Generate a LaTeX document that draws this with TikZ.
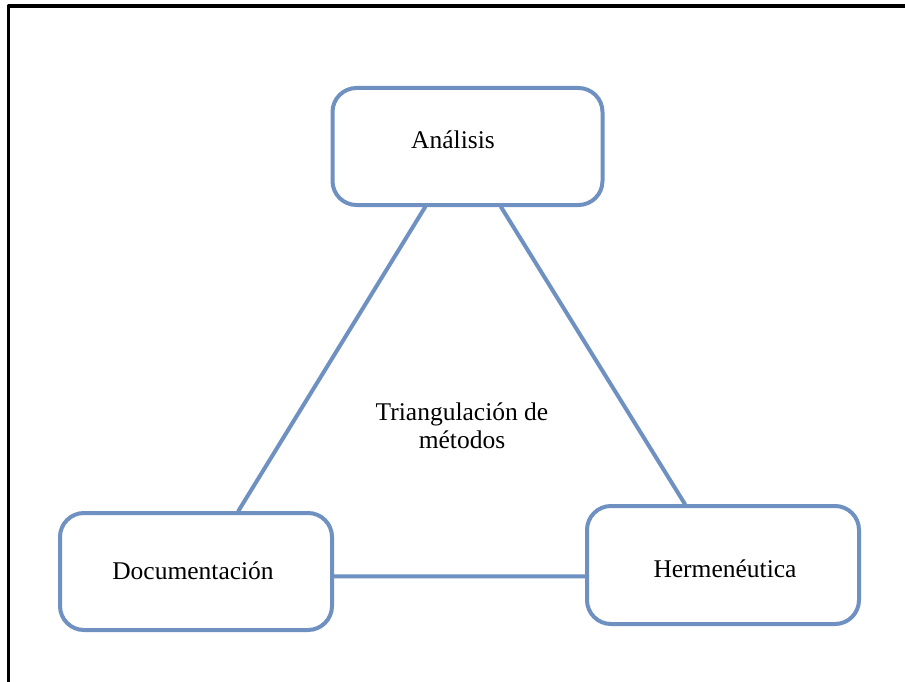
\documentclass[tikz,border=0pt]{standalone}
\usepackage{fontspec}
\setmainfont{Liberation Serif}
\definecolor{cajaazul}{RGB}{111,145,193}
\begin{document}
\begin{tikzpicture}[x=1pt, y=-1pt, font=\fontsize{25.5}{28}\selectfont, line cap=round, line join=round,
		caja/.style={draw=cajaazul, line width=4pt, rounded corners=24pt, minimum width=270pt, minimum height=117pt, inner sep=0pt},
		enlace/.style={draw=cajaazul, line width=4pt}]
	\useasboundingbox (0,0) rectangle (905,682);
	\draw[line width=3.5pt, line cap=butt] (8.5,682)--(8.5,6)--(905,6);
	\node[caja] (A) at (467.5,146.5) {};
	\node[caja, minimum width=272pt] (D) at (196,571.5) {};
	\node[caja, minimum width=272pt, minimum height=118pt] (H) at (723,565) {};
	\node (At) at (453,140) {Análisis};
	\node (Dt) at (193,571) {Documentación};
	\node (Ht) at (725,569) {Hermenéutica};
	\node[align=center] (T) at (462,426) {Triangulación de\\ métodos};
	\draw[enlace] (A.235.3)--(D.55) (A.299.1)--(H.122.1) (D.-2)--(D.-2 -| H.west);
\end{tikzpicture}
\end{document}
